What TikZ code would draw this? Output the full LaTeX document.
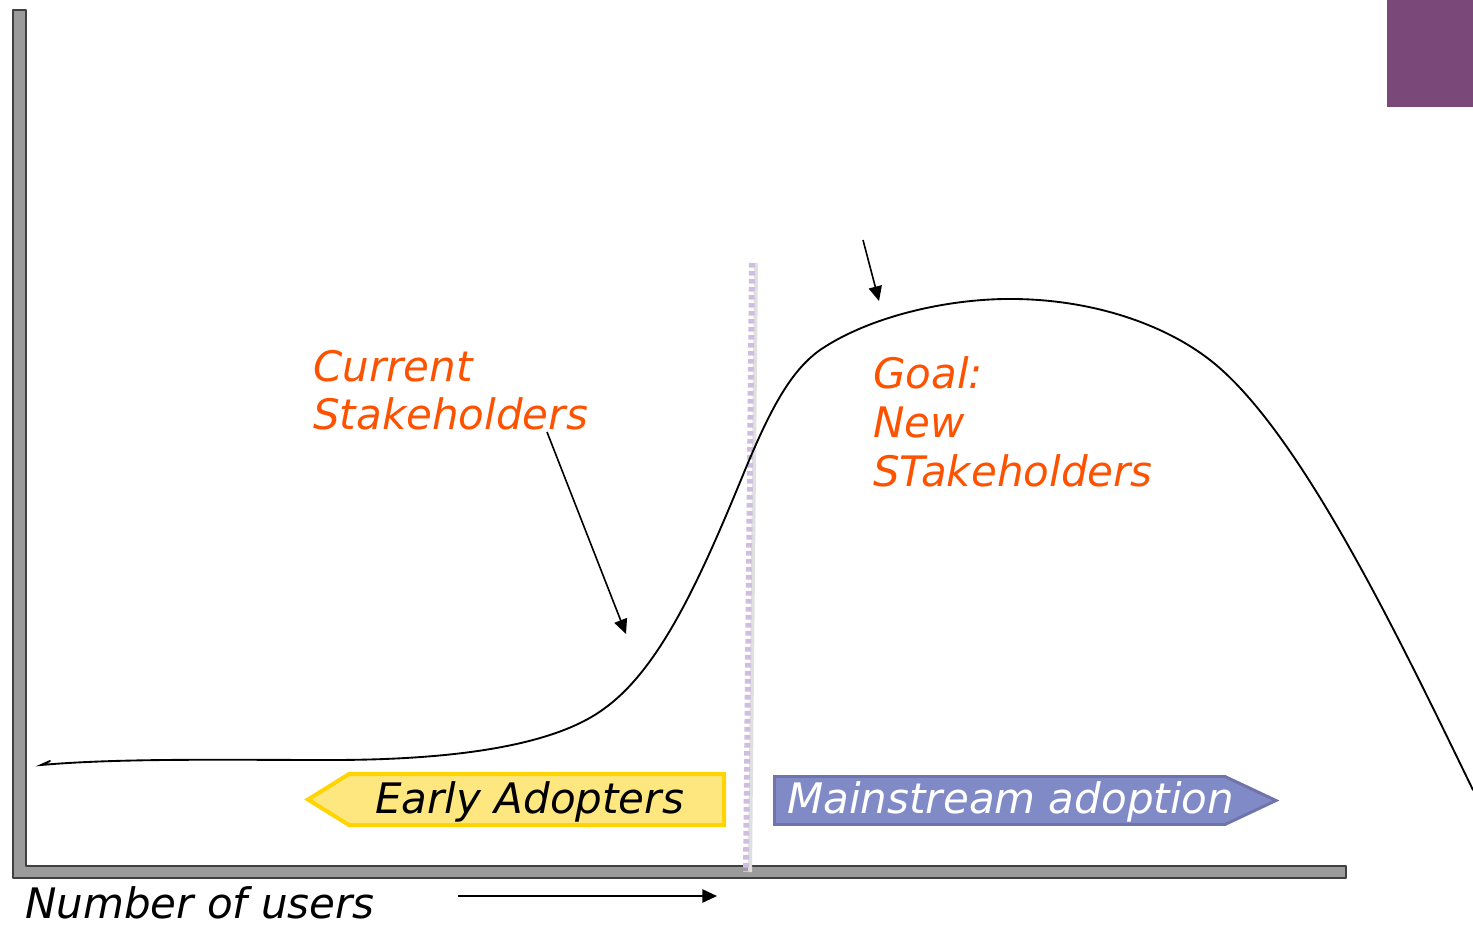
\documentclass[tikz,border=0pt]{standalone}
\usepackage{fontspec}
\setmainfont{DejaVu Sans}
\usetikzlibrary{arrows.meta}

\definecolor{stakeorange}{RGB}{255,82,0}
\definecolor{axisgray}{RGB}{155,155,155}
\definecolor{divlilac}{RGB}{208,190,224}
\definecolor{earlyedge}{RGB}{255,212,0}
\definecolor{earlyfill}{RGB}{255,231,128}
\definecolor{mainfill}{RGB}{128,138,198}
\definecolor{mainedge}{RGB}{112,116,170}
\definecolor{cornerplum}{RGB}{122,73,122}

\begin{document}
\begin{tikzpicture}[x=0.75pt, y=-0.75pt, >={Triangle[length=11pt, width=10pt]},
	every node/.style={font=\fontsize{31.5}{36}\selectfont\itshape, inner sep=0pt, anchor=base west},
	lbl/.style={text=stakeorange, align=left, anchor=north west},
	axis/.style={fill=axisgray, draw=black!75, line width=1.4pt, line join=round},
	curve/.style={line width=1.4pt, line cap=round},
	pointer/.style={->, line width=1.2pt}]
	\useasboundingbox (0,0) rectangle (1473,924);

	\fill[cornerplum] (1387,0) rectangle (1473,107);

	% axes
	\draw[axis] (13,10) -- (26,10) -- (26,866) -- (1346,866) -- (1346,878) -- (13,878) -- cycle;

	% divider between the two groups
	\coordinate (divtop) at (752,263);
	\coordinate (divbot) at (746,872);
	\draw[black!12, line width=3pt] ([xshift=3pt]divtop) -- ([xshift=3pt]divbot);
	\draw[divlilac, line width=4.5pt, dash pattern=on 3.5pt off 2.5pt] (divtop) -- (divbot);

	% adoption curve
	\draw[curve] (50,761) -- (41,765) .. controls (120,758) and (230,760) .. (330,760)
		.. controls (470,760) and (560,742) .. (605,708)
		.. controls (660,668) and (700,580) .. (745,470)
		.. controls (772,405) and (792,370) .. (820,350)
		.. controls (870,316) and (950,298) .. (1015,299)
		.. controls (1095,300) and (1165,325) .. (1210,360)
		.. controls (1300,430) and (1400,640) .. (1473,790);

	% banners
	\draw[fill=earlyfill, draw=earlyedge, line width=3pt] (308,799.5) -- (349,774) -- (724,774) -- (724,825) -- (349,825) -- cycle;
	\draw[fill=mainfill, draw=mainedge, line width=2.2pt] (774.5,776.5) -- (1225,776.5) -- (1276,800.5) -- (1225,824.5) -- (774.5,824.5) -- cycle;
	\node (early) at (375,813) {Early Adopters};
	\node[text=white] (main) at (787,813) {Mainstream adoption};

	% labels
	\node[lbl] (cur) at (313,350) {Current\\Stakeholders};
	\node[lbl, font=\fontsize{31.5}{37}\selectfont\itshape] (goal) at (873,356) {Goal:\\New\\STakeholders};
	\node (users) at (25,918) {Number of users};

	% pointers
	\coordinate (curtail) at (547,432);
	\coordinate (curhead) at (626,634);
	\coordinate (goaltail) at (863,240);
	\coordinate (goalhead) at (879,301);
	\coordinate (userstail) at (458,896);
	\coordinate (usershead) at (717,896);
	\draw[pointer] (curtail) -- (curhead);
	\draw[pointer] (goaltail) -- (goalhead);
	\draw[pointer] (userstail) -- (usershead);
\end{tikzpicture}
\end{document}
